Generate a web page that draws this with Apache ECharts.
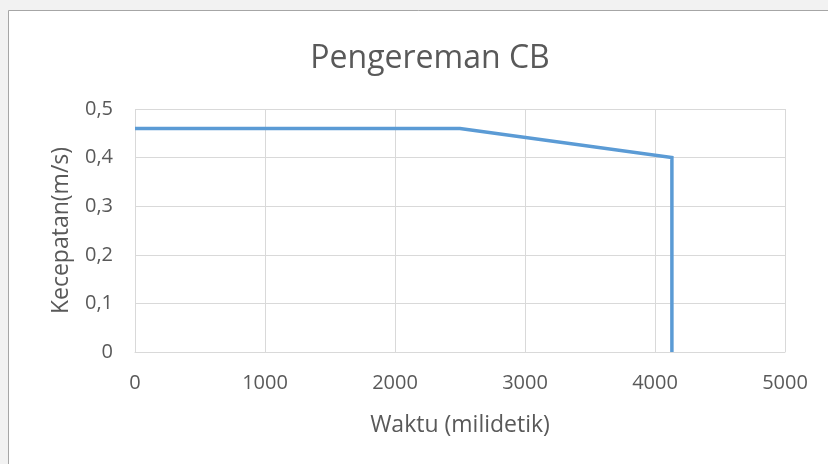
<!DOCTYPE html>
<html>
<head>
<meta charset="utf-8">
<script src="https://cdn.jsdelivr.net/npm/echarts@6/dist/echarts.min.js"></script>
<style>
	html, body { margin: 0; padding: 0; background: #f2f2f2; }
	#chart { width: 828px; height: 464px; }
</style>
</head>
<body>
<div id="chart"></div>
<script>
// waktu (ms) dan kecepatan (m/s)
const waktu = [0, 2500, 4130, 4130]
const kecepatan = [0.46, 0.46, 0.4, 0]
const xTicks = [0, 1000, 2000, 3000, 4000, 5000]
const yTicks = [0, 0.1, 0.2, 0.3, 0.4, 0.5]

const fontColor = '#595959'
const gridColor = '#d9d9d9'
const font = 'Open Sans'

const myChart = echarts.init(document.getElementById('chart'))
const options = {
	backgroundColor: 'transparent',
	animation: false,
	graphic: [
		{
			type: 'rect',
			left: 8,
			top: 10,
			shape: { width: 840, height: 480 },
			style: { fill: '#fff', stroke: '#a6a6a6', lineWidth: 1 },
			z: -10,
		},
	],
	title: {
		text: 'Pengereman CB',
		left: 425,
		top: 38,
		textAlign: 'center',
		textStyle: {
			color: fontColor,
			fontFamily: font,
			fontWeight: 'normal',
			fontSize: 32,
		},
	},
	grid: {
		left: 135,
		right: 43,
		top: 109,
		bottom: 112,
	},
	xAxis: {
		type: 'value',
		min: xTicks[0],
		max: xTicks[xTicks.length - 1],
		interval: 1000,
		name: 'Waktu (milidetik)',
		nameLocation: 'middle',
		nameGap: 62,
		nameTextStyle: { color: fontColor, fontFamily: font, fontSize: 23 },
		axisLine: { show: true, lineStyle: { color: gridColor, width: 1 } },
		axisTick: { show: false },
		axisLabel: {
			color: fontColor,
			fontFamily: font,
			fontSize: 20,
			margin: 21,
			formatter: (v) => String(v),
		},
		splitLine: { show: true, lineStyle: { color: gridColor, width: 1 } },
	},
	yAxis: {
		type: 'value',
		min: yTicks[0],
		max: yTicks[yTicks.length - 1],
		interval: 0.1,
		name: 'Kecepatan(m/s)',
		nameLocation: 'middle',
		nameGap: 62,
		nameTextStyle: { color: fontColor, fontFamily: font, fontSize: 23 },
		axisLine: { show: false },
		axisTick: { show: false },
		axisLabel: {
			color: fontColor,
			fontFamily: font,
			fontSize: 20,
			margin: 22,
			formatter: (v) => String(Math.round(v * 10) / 10).replace('.', ','),
		},
		splitLine: { show: true, lineStyle: { color: gridColor, width: 1 } },
	},
	series: [
		{
			type: 'line',
			data: waktu.map((x, i) => [x, kecepatan[i]]),
			symbol: 'none',
			lineStyle: { color: '#5b9bd5', width: 3.5, join: 'miter' },
		},
	],
}
myChart.setOption(options)
</script>
</body>
</html>
